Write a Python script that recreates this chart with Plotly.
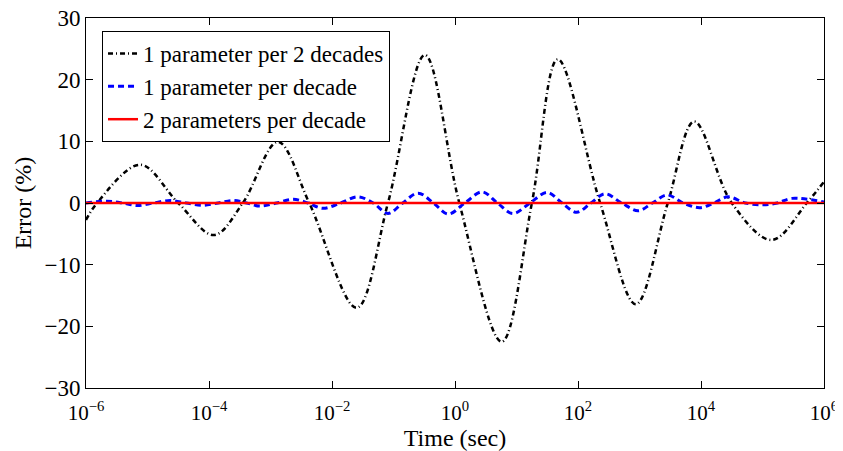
import plotly.graph_objects as go

# black: 1 parameter per 2 decades (log10 time, error %)
black_logt = [-6.0, -5.82, -5.12, -4.5, -3.92, -3.45, -2.88, -2.37, -1.6, -1.09, -0.49, 0.07,
              0.76, 1.25, 1.67, 2.36, 2.94, 3.46, 3.89, 4.5, 5.15, 5.72, 6.0]
black_err = [-2.75, 0.0, 6.2, 0.0, -5.2, 0.0, 9.9, 0.0, -17.0, 0.0, 24.0, 0.0,
             -22.5, 0.0, 23.3, 0.0, -16.4, 0.0, 13.2, 0.0, -6.0, 0.0, 3.45]

# blue: 1 parameter per decade
blue_logt = [-6.0, -5.66, -5.41, -5.17, -4.9, -4.63, -4.37, -4.10, -3.85, -3.61, -3.39, -3.17,
             -2.9, -2.63, -2.39, -2.15, -1.86, -1.58, -1.33, -1.09, -0.85, -0.60, -0.35, -0.11,
             0.16, 0.44, 0.69, 0.94, 1.22, 1.50, 1.74, 1.98, 2.21, 2.44, 2.71, 2.98, 3.21, 3.45,
             3.71, 3.98, 4.21, 4.44, 4.72, 5.01, 5.24, 5.48, 6.0]
blue_err = [0.0, 0.3, 0.0, -0.4, 0.0, 0.4, 0.0, -0.37, 0.0, 0.4, 0.0, -0.5,
            0.0, 0.6, 0.0, -0.86, 0.0, 1.0, 0.0, -1.7, 0.0, 1.6, 0.0, -1.8,
            0.0, 1.8, 0.0, -1.7, 0.0, 1.7, 0.0, -1.5, 0.0, 1.5, 0.0, -1.25, 0.0, 1.3,
            0.0, -0.75, 0.0, 1.0, 0.0, -0.3, 0.0, 0.75, 0.15]

# red: 2 parameters per decade
red_logt = [-6.0, 6.0]
red_err = [0.0, 0.0]

x_tickvals = [1e-6, 1e-4, 1e-2, 1e0, 1e2, 1e4, 1e6]
x_ticktext = ["10<sup>−6</sup>", "10<sup>−4</sup>", "10<sup>−2</sup>", "10<sup>0</sup>",
              "10<sup>2</sup>", "10<sup>4</sup>", "10<sup>6</sup>"]
y_tickvals = [-30, -20, -10, 0, 10, 20, 30]

font = "Liberation Serif, Times New Roman, serif"

fig = go.Figure()
fig.add_trace(go.Scatter(x=[10 ** v for v in black_logt], y=black_err, mode="lines",
                         line=dict(color="black", width=2.5, dash="5px,3px,1px,3px",
                                   shape="spline", smoothing=1.0),
                         name="1 parameter per 2 decades"))
fig.add_trace(go.Scatter(x=[10 ** v for v in blue_logt], y=blue_err, mode="lines",
                         line=dict(color="blue", width=3, dash="6px,4px", shape="spline", smoothing=1.0),
                         name="1 parameter per decade"))
fig.add_trace(go.Scatter(x=[10 ** v for v in red_logt], y=red_err, mode="lines",
                         line=dict(color="red", width=2.5),
                         name="2 parameters per decade"))

# page body has an 8px margin, so the figure is sized/offset to compensate
fig.update_layout(
    width=835, height=443,
    margin=dict(l=78, r=19, t=10, b=63),
    paper_bgcolor="white", plot_bgcolor="white",
    font=dict(family=font, size=22, color="black"),
    showlegend=True,
    legend=dict(x=0.0217, y=0.965, xanchor="left", yanchor="top",
                bgcolor="white", bordercolor="black", borderwidth=1,
                font=dict(family=font, size=23, color="black"),
                tracegroupgap=0, itemwidth=30),
    xaxis=dict(type="log", range=[-6, 6], tickvals=x_tickvals, ticktext=x_ticktext,
               ticks="inside", ticklen=7, tickcolor="black", showline=True, linecolor="black",
               linewidth=1, mirror="ticks", showgrid=False, zeroline=False, automargin=False,
               ticklabeloverflow="allow", ticklabelstandoff=6,
               tickfont=dict(family=font, size=21),
               title=dict(text="Time (sec)", font=dict(family=font, size=24), standoff=2)),
    yaxis=dict(range=[-30, 30], tickvals=y_tickvals,
               ticks="inside", ticklen=7, tickcolor="black", showline=True, linecolor="black",
               linewidth=1, mirror="ticks", showgrid=False, zeroline=False, automargin=False,
               ticklabeloverflow="allow",
               tickfont=dict(family=font, size=23),
               title=dict(text="Error (%)", font=dict(family=font, size=24), standoff=6)),
)

fig.write_html("out.html")
